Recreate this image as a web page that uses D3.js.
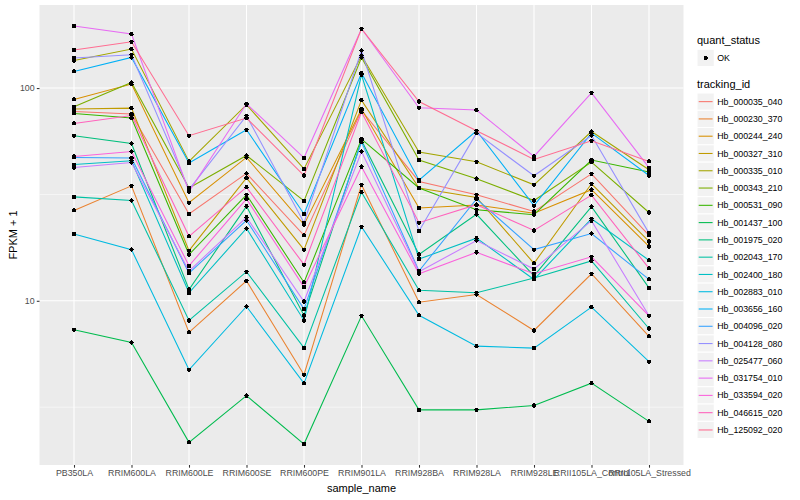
<!DOCTYPE html>
<html><head><meta charset="utf-8">
<script src="https://cdn.jsdelivr.net/npm/d3@7"></script>
<style>body{margin:0;background:#fff}text{font-family:"Liberation Sans",Arial,sans-serif}</style>
</head><body>
<svg id="chart" width="800" height="500"></svg>
<script>
const samples = ["PB350LA","RRIM600LA","RRIM600LE","RRIM600SE","RRIM600PE","RRIM901LA","RRIM928BA","RRIM928LA","RRIM928LE","RRII105LA_Control","RRII105LA_Stressed"];
const trackingIds = ["Hb_000035_040","Hb_000230_370","Hb_000244_240","Hb_000327_310","Hb_000335_010","Hb_000343_210","Hb_000531_090","Hb_001437_100","Hb_001975_020","Hb_002043_170","Hb_002400_180","Hb_002883_010","Hb_003656_160","Hb_004096_020","Hb_004128_080","Hb_025477_060","Hb_031754_010","Hb_033594_020","Hb_046615_020","Hb_125092_020"];
const palette = ["#F8766D","#EA8331","#D89000","#C09B00","#A3A500","#7CAE00","#39B600","#00BB4E","#00BF7D","#00C1A3","#00BFC4","#00BAE0","#00B0F6","#35A2FF","#9590FF","#C77CFF","#E76BF3","#FA62DB","#FF62BC","#FF6C91"];
const yTicks = [10, 100];
const quantStatus = ["OK"];

// FPKM + 1 per gene, in sample order
const Hb_000035_040 = [77.6, 75.5, 25.6, 39.7, 20.3, 78.5, 36.4, 31.5, 26.3, 39.5, 20.3];
const Hb_000230_370 = [26.6, 34.7, 7.10, 12.4, 4.49, 35.1, 9.84, 10.7, 7.25, 13.4, 6.80];
const Hb_000244_240 = [88.4, 104.4, 28.9, 47.2, 22.8, 79.7, 27.3, 28.2, 25.8, 33.3, 18.0];
const Hb_000327_310 = [79.7, 80.5, 17.2, 37.8, 17.4, 87.8, 33.9, 30.6, 15.0, 35.5, 19.0];
const Hb_000335_010 = [134.8, 152.5, 45.2, 83.5, 41.7, 142.3, 50.0, 45.0, 35.1, 62.5, 41.3];
const Hb_000343_210 = [81.7, 106.2, 33.9, 48.2, 29.5, 139.3, 45.9, 37.5, 29.6, 44.9, 26.0];
const Hb_000531_090 = [76.0, 72.3, 16.5, 31.5, 12.2, 57.6, 33.9, 26.8, 25.4, 45.9, 40.3];
const Hb_001437_100 = [7.31, 6.37, 2.16, 3.58, 2.12, 8.50, 3.07, 3.07, 3.22, 4.10, 2.71];
const Hb_001975_020 = [59.7, 54.9, 11.3, 27.8, 8.53, 56.7, 16.5, 25.5, 13.1, 27.7, 11.5];
const Hb_002043_170 = [30.8, 29.6, 8.08, 13.7, 6.01, 32.4, 11.2, 10.9, 12.8, 15.4, 7.41];
const Hb_002400_180 = [43.7, 45.5, 10.9, 21.9, 8.08, 115.5, 15.7, 19.7, 12.6, 24.3, 15.5];
const Hb_002883_010 = [20.6, 17.4, 4.74, 9.40, 4.09, 22.3, 8.55, 6.12, 5.99, 9.34, 5.17];
const Hb_003656_160 = [119.7, 139.3, 44.4, 63.7, 25.6, 117.6, 36.9, 63.0, 28.0, 61.4, 38.8];
const Hb_004096_020 = [47.2, 46.9, 13.5, 23.9, 9.14, 55.7, 13.8, 30.1, 17.4, 20.7, 12.6];
const Hb_004128_080 = [138.4, 143.4, 33.3, 74.1, 23.3, 150.2, 21.3, 61.4, 38.7, 59.8, 20.8];
const Hb_025477_060 = [42.3, 44.7, 13.8, 24.7, 9.92, 50.3, 13.7, 19.2, 14.1, 23.8, 8.50];
const Hb_031754_010 = [196.0, 179.4, 32.6, 84.4, 47.0, 190.0, 80.8, 78.8, 47.7, 95.0, 42.3];
const Hb_033594_020 = [47.7, 50.3, 14.6, 30.1, 11.6, 42.7, 13.4, 16.9, 13.4, 16.1, 8.50];
const Hb_046615_020 = [68.2, 74.3, 20.1, 34.2, 14.8, 77.1, 23.3, 28.3, 21.4, 31.4, 14.2];
const Hb_125092_020 = [150.9, 165.1, 59.7, 72.3, 38.8, 190.0, 86.5, 63.0, 46.2, 56.5, 45.2];

const seriesValues = [Hb_000035_040,Hb_000230_370,Hb_000244_240,Hb_000327_310,Hb_000335_010,Hb_000343_210,Hb_000531_090,Hb_001437_100,Hb_001975_020,Hb_002043_170,Hb_002400_180,Hb_002883_010,Hb_003656_160,Hb_004096_020,Hb_004128_080,Hb_025477_060,Hb_031754_010,Hb_033594_020,Hb_046615_020,Hb_125092_020];

const series = trackingIds.map((id, i) => ({
  id, color: palette[i],
  points: samples.map((s, j) => ({sample: s, value: seriesValues[i][j]}))
}));

const svg = d3.select("#chart");
svg.append("rect").attr("width", 800).attr("height", 500).attr("fill", "#fff");

const P = {left: 39.5, right: 683.5, top: 5, bottom: 465};

const x = d3.scalePoint().domain(samples).range([P.left, P.right]).padding(0.6);

const allVals = seriesValues.flat();
const lmin = Math.log10(d3.min(allVals)), lmax = Math.log10(d3.max(allVals));
const ex = (lmax - lmin) * 0.05;
const y = d3.scaleLog().domain([Math.pow(10, lmin - ex), Math.pow(10, lmax + ex)]).range([P.bottom, P.top]);

// panel
svg.append("rect").attr("x", P.left).attr("y", P.top).attr("width", P.right - P.left).attr("height", P.bottom - P.top).attr("fill", "#EBEBEB");

// minor grid (midpoints in log space)
const minorY = [Math.pow(10, 0.5), Math.pow(10, 1.5)];
svg.append("g").selectAll("line").data(minorY).join("line")
  .attr("x1", P.left).attr("x2", P.right)
  .attr("y1", d => y(d)).attr("y2", d => y(d))
  .attr("stroke", "#fff").attr("stroke-width", 0.53);
// major grid
svg.append("g").selectAll("line").data(yTicks).join("line")
  .attr("x1", P.left).attr("x2", P.right)
  .attr("y1", d => y(d)).attr("y2", d => y(d))
  .attr("stroke", "#fff").attr("stroke-width", 1.07);
svg.append("g").selectAll("line").data(samples).join("line")
  .attr("x1", d => x(d)).attr("x2", d => x(d))
  .attr("y1", P.top).attr("y2", P.bottom)
  .attr("stroke", "#fff").attr("stroke-width", 1.07);

// lines
const line = d3.line().x(d => x(d.sample)).y(d => y(d.value));
svg.append("g").selectAll("path").data(series).join("path")
  .attr("d", d => line(d.points))
  .attr("fill", "none").attr("stroke", d => d.color).attr("stroke-width", 1.07);

// points
svg.append("g").selectAll("circle").data(series.flatMap(s => s.points)).join("circle")
  .attr("cx", d => x(d.sample)).attr("cy", d => y(d.value))
  .attr("r", 2.2).attr("fill", "#000").attr("shape-rendering", "crispEdges");

// y axis
const yAxis = d3.axisLeft(y).tickValues(yTicks).tickFormat(d3.format("d")).tickSize(2.7).tickPadding(2.2);
const gy = svg.append("g").attr("transform", `translate(${P.left},0)`).call(yAxis);
gy.select(".domain").remove();
gy.selectAll(".tick line").attr("stroke", "#333").attr("stroke-width", 1.07);
gy.selectAll(".tick text").attr("fill", "#4D4D4D").attr("font-size", 8.8).attr("font-family", "Liberation Sans, Arial, sans-serif");

// x axis
const xAxis = d3.axisBottom(x).tickSize(2.7).tickPadding(2.2);
const gx = svg.append("g").attr("transform", `translate(0,${P.bottom})`).call(xAxis);
gx.select(".domain").remove();
gx.selectAll(".tick line").attr("stroke", "#333").attr("stroke-width", 1.07);
gx.selectAll(".tick text").attr("fill", "#4D4D4D").attr("font-size", 8.8).attr("font-family", "Liberation Sans, Arial, sans-serif");

// axis titles
svg.append("text").attr("x", (P.left + P.right) / 2).attr("y", 492).attr("text-anchor", "middle")
  .attr("font-size", 11).attr("fill", "#000").text("sample_name");
svg.append("text").attr("transform", `translate(17,${(P.top + P.bottom) / 2}) rotate(-90)`).attr("text-anchor", "middle")
  .attr("font-size", 11).attr("fill", "#000").text("FPKM + 1");

// legends
const L = {x: 697, key: 17.28};
const lg = svg.append("g");
lg.append("text").attr("x", L.x).attr("y", 44).attr("font-size", 11).attr("fill", "#000").text("quant_status");
const qs = lg.selectAll("g.qs").data(quantStatus).join("g").attr("class", "qs")
  .attr("transform", (d, i) => `translate(${L.x},${49.3 + i * L.key})`);
qs.append("rect").attr("width", L.key).attr("height", L.key).attr("fill", "#F2F2F2").attr("stroke", "#fff");
qs.append("circle").attr("cx", L.key / 2).attr("cy", L.key / 2).attr("r", 2.2).attr("fill", "#000").attr("shape-rendering", "crispEdges");
qs.append("text").attr("x", L.key + 3).attr("y", L.key / 2).attr("dy", "0.35em").attr("font-size", 8.8).attr("fill", "#000").text(d => d);

lg.append("text").attr("x", L.x).attr("y", 88).attr("font-size", 11).attr("fill", "#000").text("tracking_id");
const tk = lg.selectAll("g.tk").data(series).join("g").attr("class", "tk")
  .attr("transform", (d, i) => `translate(${L.x},${93 + i * L.key})`);
tk.append("rect").attr("width", L.key).attr("height", L.key).attr("fill", "#F2F2F2").attr("stroke", "#fff");
tk.append("line").attr("x1", 1.7).attr("x2", L.key - 1.7).attr("y1", L.key / 2).attr("y2", L.key / 2)
  .attr("stroke", d => d.color).attr("stroke-width", 1.07);
tk.append("text").attr("x", L.key + 3).attr("y", L.key / 2).attr("dy", "0.35em").attr("font-size", 8.8).attr("fill", "#000").text(d => d.id);
</script>
</body></html>
